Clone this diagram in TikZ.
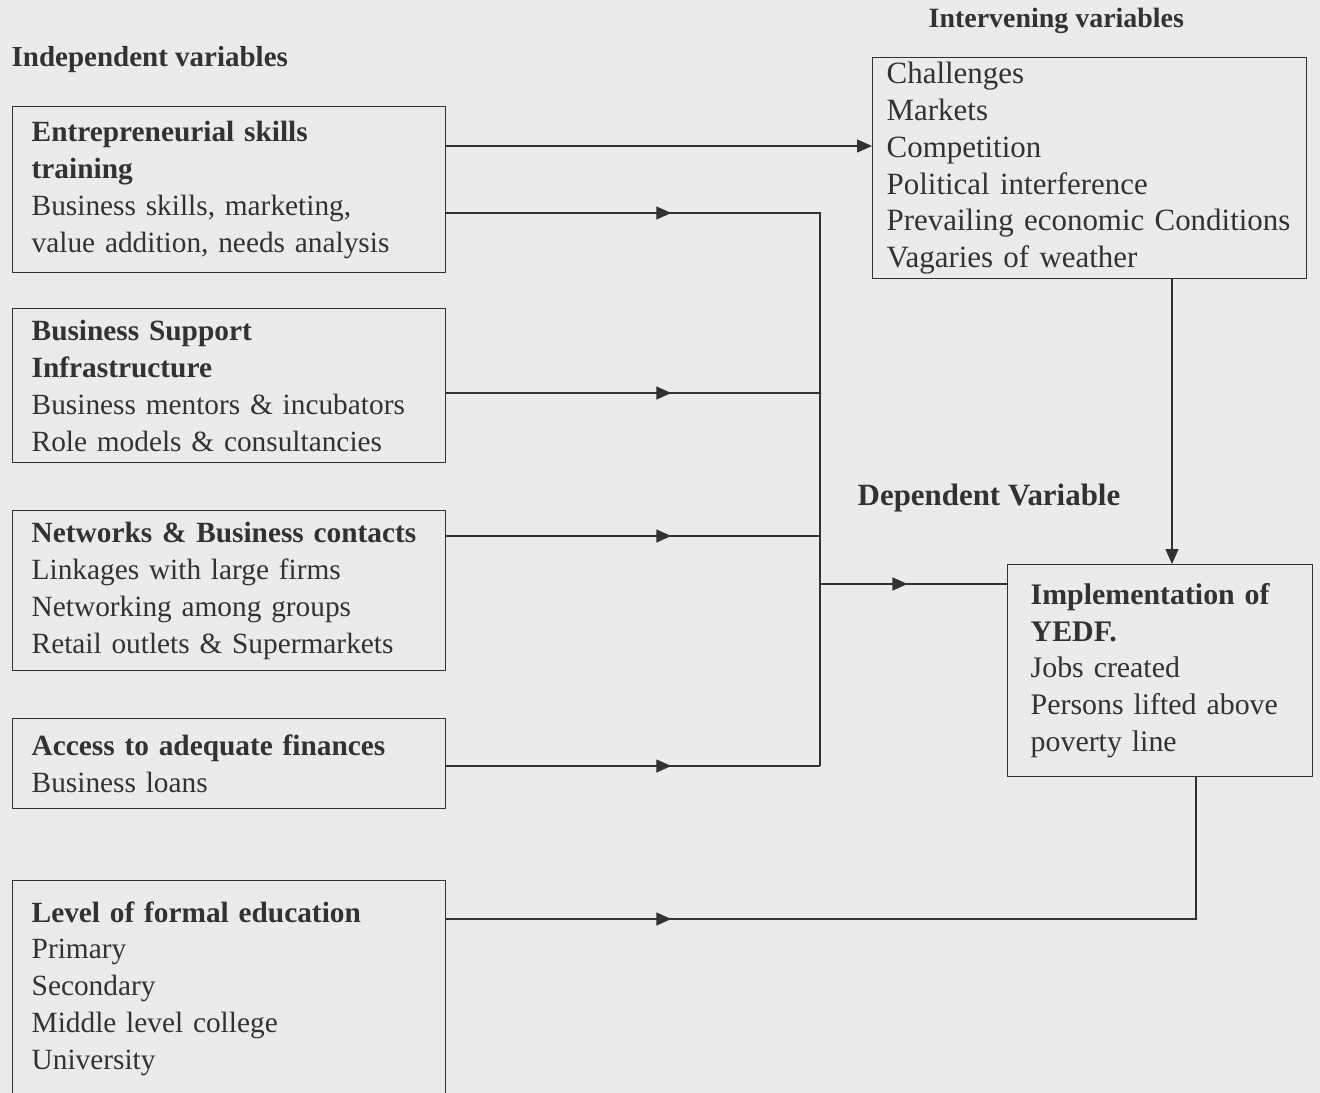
\documentclass[tikz,border=0pt]{standalone}
\usepackage{fontspec}
\setmainfont{Liberation Serif}
\usepackage{tikz}
\usetikzlibrary{positioning,arrows.meta,decorations.markings}
\definecolor{paper}{RGB}{235,235,235}
\definecolor{ink}{RGB}{50,50,50}

\begin{document}
\begin{tikzpicture}[x=0.02cm,y=-0.02cm,color=ink,line width=0.8pt]
\tikzstyle{varbox}=[draw,rectangle,anchor=north west,align=left,inner ysep=1pt,
  font=\fontsize{17pt}{21pt}\selectfont]
\tikzstyle{leftbox}=[varbox,inner xsep=0.38cm,text width=7.9cm,
  font=\fontsize{16.7pt}{21pt}\selectfont]
\tikzstyle{heading}=[anchor=base west,inner sep=0pt]
\tikzstyle{flow}=[-{Triangle[length=0.3cm,width=0.26cm]}]
\tikzset{midflow/.style={postaction={decorate},decoration={markings,
  mark=at position #1 with {\arrow{Triangle[length=0.3cm,width=0.26cm]}}}}}

%% Page
\fill[paper] (0,0) rectangle (1320,1093);
\useasboundingbox (0,0) rectangle (1320,1093);
\clip (0,0) rectangle (1320,1093);

%% Headings
\node[heading,font=\bfseries\fontsize{16.5pt}{20pt}\selectfont] (indep) at (11,66)
  {Independent variables};
\node[heading,font=\bfseries\fontsize{15.9pt}{20pt}\selectfont] (interv) at (928,27)
  {Intervening variables};
\node[heading,font=\bfseries\fontsize{17.6pt}{20pt}\selectfont] (depv) at (857,505)
  {Dependent Variable};

%% Independent variables
\node[leftbox,minimum height=3.32cm] (ent) at (12,106)
  {\textbf{Entrepreneurial skills}\\ \textbf{training}\\
   Business skills, marketing,\\ value addition, needs analysis};
\node[leftbox,minimum height=3.08cm] (sup) at (12,308)
  {\textbf{Business Support}\\ \textbf{Infrastructure}\\
   Business mentors \& incubators\\ Role models \& consultancies};
\node[leftbox,minimum height=3.2cm] (net) at (12,510)
  {\textbf{Networks \& Business contacts}\\ Linkages with large firms\\
   Networking among groups\\ Retail outlets \& Supermarkets};
\node[leftbox,minimum height=1.8cm] (fin) at (12,718)
  {\textbf{Access to adequate finances}\\ Business loans};
\node[leftbox,minimum height=4.32cm] (edu) at (12,880)
  {\textbf{Level of formal education}\\ Primary\\ Secondary\\
   Middle level college\\ University};

%% Intervening and dependent variables
\node[varbox,inner xsep=0.28cm,text width=8.12cm,minimum height=4.42cm,
  font=\fontsize{17.6pt}{21pt}\selectfont] (inter) at (872,57)
  {Challenges\\ Markets\\ Competition\\ Political interference\\
   Prevailing economic Conditions\\ Vagaries of weather};
\node[varbox,inner xsep=0.46cm,text width=5.18cm,minimum height=4.24cm] (impl) at (1007,564)
  {\textbf{Implementation of}\\ \textbf{YEDF.}\\ Jobs created\\
   Persons lifted above\\ poverty line};

%% Connectors
\coordinate (bustop) at (820,213);
\coordinate (busbot) at (820,766);
\coordinate (busout) at (820,584);
\coordinate (edubend) at (1196,919);

\draw[flow] (ent.east |- 0,146) -- (inter.west |- 0,146);
\draw[midflow=4.5cm] (ent.east |- bustop) -- (bustop) -- (busbot);
\draw[midflow=4.5cm] (sup.east |- 0,393) -- (bustop |- 0,393);
\draw[midflow=4.5cm] (net.east |- 0,536) -- (bustop |- 0,536);
\draw[midflow=4.5cm] (fin.east |- busbot) -- (busbot);
\draw[midflow=1.75cm] (busout) -- (impl.west |- busout);
\draw[flow] (inter.south -| 1172,0) -- (impl.north -| 1172,0);
\draw[midflow=4.5cm] (edu.east |- edubend) -- (edubend) -- (impl.south -| edubend);

\end{tikzpicture}
\end{document}
